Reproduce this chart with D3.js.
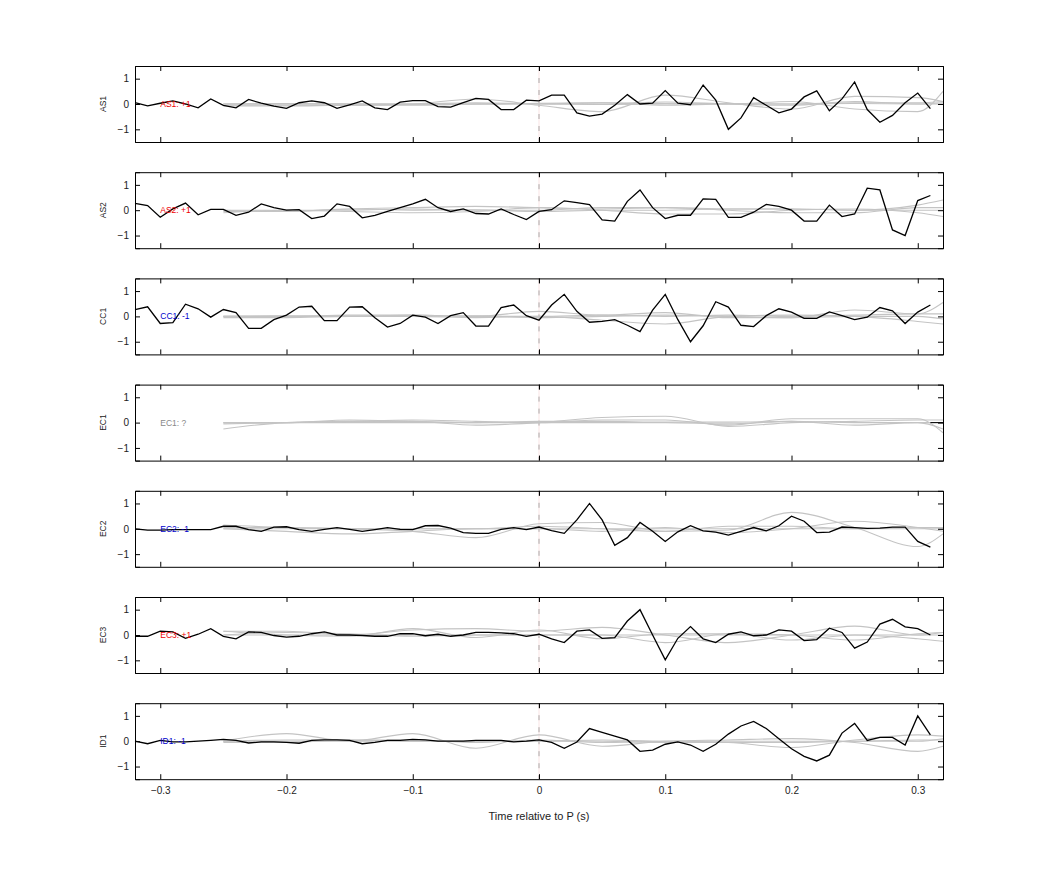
<!DOCTYPE html>
<html><head><meta charset="utf-8">
<script src="https://cdn.jsdelivr.net/npm/d3@7"></script>
<style>body{margin:0;background:#fff}svg{font-family:"Liberation Sans",Arial,sans-serif}</style>
</head><body><svg id="c" width="1042" height="875"></svg>
<script>
const channels = ["AS1","AS2","CC1","EC1","EC2","EC3","ID1"];
const polarity = ["+1","+1","-1","?","-1","+1","-1"];
const xTicks = [-0.3,-0.2,-0.1,0,0.1,0.2,0.3];
const yTicks = [-1,0,1];
const xLabel = "Time relative to P (s)";
const tBlack = d3.range(64).map(i => +(-0.32 + i*0.01).toFixed(2));
const AS1 = [0.05,-0.07,0.03,0.12,0,-0.15,0.2,-0.05,-0.15,0.18,0.03,-0.08,-0.17,0.05,0.12,0.05,-0.17,-0.03,0.12,-0.15,-0.22,0.07,0.13,0.13,-0.1,-0.12,0.05,0.22,0.18,-0.22,-0.22,0.15,0.12,0.35,0.35,-0.35,-0.48,-0.4,-0.05,0.37,0,0.03,0.53,0.03,-0.03,0.75,0.15,-1,-0.55,0.25,-0.05,-0.35,-0.2,0.28,0.52,-0.27,0.2,0.87,-0.22,-0.72,-0.45,0.05,0.43,-0.18];
const AS2 = [0.27,0.18,-0.28,0.05,0.28,-0.18,0.03,0.03,-0.2,-0.08,0.25,0.1,0,0.02,-0.33,-0.23,0.25,0.15,-0.3,-0.2,-0.05,0.1,0.25,0.43,0.1,-0.05,0.05,-0.13,-0.15,0.05,-0.17,-0.37,-0.05,0.02,0.37,0.3,0.22,-0.38,-0.43,0.35,0.8,0.1,-0.33,-0.2,-0.2,0.45,0.43,-0.28,-0.28,-0.08,0.23,0.15,0,-0.43,-0.43,0.2,-0.25,-0.15,0.87,0.8,-0.78,-1,0.38,0.58];
const CC1 = [0.27,0.38,-0.28,-0.25,0.48,0.3,-0.03,0.27,0.15,-0.47,-0.47,-0.13,0.05,0.37,0.4,-0.17,-0.17,0.37,0.38,-0.05,-0.42,-0.28,0.05,-0.03,-0.28,0.03,0.15,-0.38,-0.38,0.35,0.45,0.03,-0.15,0.45,0.87,0.2,-0.23,-0.2,-0.13,-0.35,-0.6,0.25,0.87,-0.13,-1,-0.37,0.58,0.37,-0.35,-0.4,0.03,0.3,0.17,-0.08,-0.08,0.18,0.03,-0.13,-0.03,0.35,0.22,-0.28,0.17,0.45];
const EC1 = null;
const EC2 = [0,-0.05,-0.05,-0.03,-0.03,-0.03,-0.03,0.1,0.1,-0.03,-0.1,0.07,0.08,-0.03,-0.1,-0.02,0.05,-0.02,-0.1,-0.03,0.05,-0.02,-0.03,0.12,0.13,0.03,-0.15,-0.18,-0.18,-0.02,0.05,-0.03,0.07,-0.07,-0.18,0.35,1,0.35,-0.65,-0.35,0.25,-0.1,-0.5,-0.12,0.12,-0.08,-0.13,-0.25,-0.1,0.05,-0.08,0.12,0.5,0.3,-0.15,-0.13,0.07,0.05,0.02,0.03,0.07,0.07,-0.5,-0.72];
const EC3 = [-0.05,-0.05,0.15,0.12,-0.13,0.03,0.25,-0.05,-0.15,0.12,0.1,-0.02,-0.08,-0.05,0.05,0.12,0,0,-0.02,-0.05,-0.05,0.05,0.05,-0.03,0.03,-0.05,0,0.1,0.1,0.08,0.05,-0.05,0.03,-0.15,-0.3,0.15,0.2,-0.13,-0.1,0.55,1,0,-0.98,-0.13,0.33,-0.15,-0.3,0.03,0.12,-0.03,0,0.2,0.15,-0.22,-0.18,0.27,0.1,-0.52,-0.28,0.43,0.62,0.32,0.25,0];
const ID1 = [0,-0.1,0.03,-0.03,-0.03,0,0.03,0.07,0.03,-0.07,-0.03,-0.03,-0.05,-0.08,0.03,0.05,0.05,0.03,-0.1,-0.05,0.03,0.03,0.07,0.05,0,0,0,0.03,0.03,0.03,-0.03,0,0.05,-0.05,-0.28,-0.03,0.5,0.35,0.2,0.05,-0.4,-0.35,-0.12,-0.03,-0.15,-0.4,-0.12,0.28,0.6,0.78,0.5,0.1,-0.3,-0.6,-0.78,-0.55,0.32,0.7,0.03,0.15,0.15,-0.15,1,0.25];
const blacks = [AS1,AS2,CC1,EC1,EC2,EC3,ID1];
const tGray = [-0.25,-0.2,-0.15,-0.1,-0.05,0,0.05,0.1,0.15,0.2,0.25,0.3,0.32];
const grays = [
 [[0,0,0,0,0.05,0,-0.02,0,0.02,0,0.02,0,0],[-0.05,-0.05,-0.05,0,0.2,-0.05,-0.3,0.35,0.05,-0.2,0.3,0.25,0.1],[0,0,0,-0.02,0,0,0.05,0.02,0,0.1,-0.2,-0.3,0.5],[-0.08,-0.08,-0.05,-0.05,0,0.02,0,0.08,0,-0.05,0.1,0,0.05],[0,0.02,0,0,0,0.03,0.05,-0.05,0,0,0.05,0.05,0.1]],
 [[-0.05,-0.05,0.05,0.1,0.15,0.1,0.05,0.1,0.05,0.05,0,0.2,0.4],[-0.1,0,-0.05,-0.1,-0.05,0.1,0,-0.15,-0.15,0,0.05,-0.1,-0.25],[0,0,0,0.05,0,0,0.1,0.1,0,-0.1,-0.1,0.1,0.1],[0,-0.05,0.05,0,0.02,-0.05,0,0,0.05,0.05,0,0,0]],
 [[0,0,0.05,0.05,0,0.2,0.05,0.15,-0.05,-0.05,0.25,0.1,0.55],[-0.05,-0.05,0,0,-0.05,0,-0.15,-0.3,0,0.05,0,-0.2,-0.3],[0,0.02,0,0.05,0,0,0.05,0,0.05,0,0.05,0.1,0.1],[0,0,0,0,0.02,-0.05,0,0.05,0,-0.05,0,0,-0.1]],
 [[-0.25,0,0.05,0.05,-0.1,0,0.2,0.25,-0.15,0,0.05,0.1,0.1],[0,0,0.1,0.05,0,0,0.1,0.1,-0.1,0.15,0.15,0.15,-0.4],[0,0,0,0,0,0.05,0.05,0.02,0.02,0.05,0,0,-0.25],[-0.05,0,0.05,0.1,0.05,0,0,0,-0.05,0.05,-0.1,0,0]],
 [[0.15,0.05,0,-0.1,-0.35,0.2,0.25,-0.1,-0.05,0.65,0.05,-0.7,-0.2],[0,-0.1,-0.2,-0.1,0,0,-0.1,0.05,-0.15,0,0.3,0.05,-0.1],[0.05,0.05,0,0,0,0.1,0,-0.1,0.1,0.1,0,0.05,0.05],[0,0,0,0,0,0,0,0,0,0,0,0,0]],
 [[0.15,0.15,0,0.2,0.25,0.15,0.3,0,-0.3,0,0.35,0,0.1],[0.15,0,-0.05,0.25,-0.1,0.2,-0.15,0.05,0.05,-0.2,0,-0.15,-0.25],[0,0.1,0.05,-0.05,0,0,0,-0.3,0.05,0,-0.2,0.05,0.1],[0,0,0,0,0,0,0,0,0,0,0,0,0]],
 [[0,0.3,0,0.3,-0.28,0.25,-0.2,0,0.05,0.1,-0.05,-0.4,-0.2],[-0.05,-0.05,0.05,0.05,-0.05,0.05,-0.05,0,-0.05,-0.25,0.05,0.25,0.2],[0,0,0,0,0,0,0.05,0,0,0,0,0.05,0.05],[0,0.05,0.05,0,0,0,0,-0.05,-0.05,-0.05,0,0,0.1]]
];

const svg = d3.select("#c");
const L=135,R=943, top0=66, H=76, gap=106.2;
const x = d3.scaleLinear().domain([-0.32,0.32]).range([L,R]);
channels.forEach((ch,i)=>{
  const t0 = top0 + i*gap;
  const y = d3.scaleLinear().domain([-1.5,1.5]).range([t0+H,t0]);
  const g = svg.append("g");
  g.append("line").attr("x1",x(0)).attr("x2",x(0)).attr("y1",t0).attr("y2",t0+H)
   .attr("stroke","#f6d4d4").attr("stroke-width",0.6);
  g.append("line").attr("x1",x(0)).attr("x2",x(0)).attr("y1",t0).attr("y2",t0+H)
   .attr("stroke","#777").attr("stroke-dasharray","5,7").attr("stroke-width",0.6);
  const gl = d3.line().x((d,k)=>x(tGray[k])).y(d=>y(d)).curve(d3.curveMonotoneX);
  grays[i].forEach(s=> g.append("path").attr("d",gl(s)).attr("fill","none").attr("stroke","#c4c4c4").attr("stroke-width",1.1));
  if(blacks[i]){
    const bl = d3.line().x((d,k)=>x(tBlack[k])).y(d=>y(d));
    g.append("path").attr("d",bl(blacks[i])).attr("fill","none").attr("stroke","#000").attr("stroke-width",1.3);
  } else {
    g.append("line").attr("x1",x(0.31)).attr("x2",R).attr("y1",y(0)).attr("y2",y(0)).attr("stroke","#000");
  }
  const col = polarity[i]==="+1"?"#e00":polarity[i]==="-1"?"#00c":"#888";
  g.append("text").attr("x",x(-0.3)).attr("y",y(0)+3).attr("font-size",8.5).attr("fill",col).text(ch+": "+polarity[i]);
  const ax = d3.axisBottom(x).tickValues(xTicks).tickSize(-5).tickFormat(i===6?d3.format(""):"");
  const axT = d3.axisTop(x).tickValues(xTicks).tickSize(-5).tickFormat("");
  const ay = d3.axisLeft(y).tickValues(yTicks).tickSize(-5).tickFormat(d3.format(""));
  const ayR = d3.axisRight(y).tickValues(yTicks).tickSize(-5).tickFormat("");
  [[ax,`translate(0,${t0+H})`],[axT,`translate(0,${t0})`],[ay,`translate(${L},0)`],[ayR,`translate(${R},0)`]].forEach(([a,tr],j)=>{
    const s = g.append("g").attr("transform",tr).call(a);
    s.select(".domain").attr("stroke","#000");
    s.selectAll("text").attr("font-size",10).attr("fill","#222");
    if(j===2) s.selectAll("text").attr("dx",-3);
    if(j===0) s.selectAll("text").attr("dy","1.2em");
  });
  g.append("text").attr("transform",`translate(106,${t0+H/2}) rotate(-90)`).attr("text-anchor","middle")
   .attr("font-size",8.5).attr("fill","#222").text(ch);
});
svg.append("text").attr("x",(L+R)/2).attr("y",820).attr("text-anchor","middle").attr("font-size",11).attr("fill","#222").text(xLabel);
</script></body></html>
